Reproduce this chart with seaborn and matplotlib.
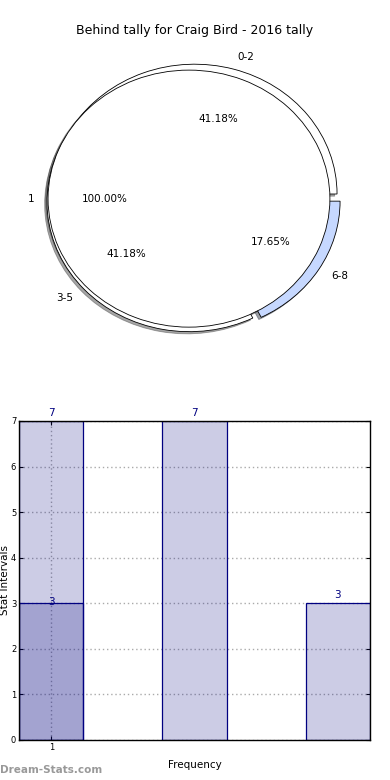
import numpy as np
import pandas as pd
import seaborn as sns
import matplotlib
matplotlib.use("Agg")
import matplotlib.pyplot as plt

# data
interval_labels = ["0-2", "3-5", "6-8"]
interval_counts = [7, 7, 3]
overall_labels = ["1"]
overall_counts = [1]
overlay_counts = [3, 0, 0]      # darker bar on the first interval
tick_labels = ["1"]
pie_colors = ["white", "white", "#c6d8ff"]

sns.set_style("white")
plt.rcParams['font.family'] = ['DejaVu Sans']
plt.rcParams['text.color'] = 'black'
plt.rcParams['axes.labelcolor'] = 'black'
plt.rcParams['xtick.color'] = 'black'
plt.rcParams['ytick.color'] = 'black'

fig = plt.figure(figsize=(3.9, 7.8), dpi=100)

# pie part - outer intervals, then the single "1" pie on top
shadow = dict(ox=-0.012, oy=-0.012)
ax1 = fig.add_axes([0.021, 0.529, 0.949, 0.4327])
ax1.pie(interval_counts, labels=interval_labels, colors=pie_colors,
        explode=[0.037] * len(interval_counts), radius=1.0, shadow=shadow,
        autopct='%.2f%%', startangle=0, counterclock=True,
        wedgeprops=dict(edgecolor='black', linewidth=0.6),
        textprops=dict(fontsize=7.5))
ax1.pie(overall_counts, labels=overall_labels, colors=["white"], radius=0.99,
        explode=[0.03], shadow=shadow, autopct='%.2f%%', startangle=0,
        wedgeprops=dict(edgecolor='black', linewidth=0.6),
        textprops=dict(fontsize=7.5))
ax1.set_aspect('auto')
ax1.set_xlim(-1.3, 1.3)
ax1.set_ylim(-1.3, 1.3)
ax1.axis('off')

fig.text(0.5, 0.9615, "Behind tally for Craig Bird - 2016 tally", ha='center', va='center', fontsize=9)

# bar part
ax2 = fig.add_axes([0.0487, 0.0513, 0.9, 0.409])
df = pd.DataFrame({"interval": interval_labels, "count": interval_counts, "overlay": overlay_counts})
sns.barplot(data=df, x="interval", y="count", color="navy", saturation=1,
            edgecolor="navy", linewidth=0.9, width=0.45, ax=ax2)
c_main = ax2.containers[0]
sns.barplot(data=df.iloc[:1], x="interval", y="overlay", color="navy", saturation=1,
            edgecolor="navy", linewidth=0.9, width=0.45, ax=ax2)
c_over = ax2.containers[1]
for p in list(c_main) + list(c_over):
    p.set_alpha(None)
    p.set_facecolor((0, 0, 0.5, 0.2))
    p.set_edgecolor((0, 0, 0.5, 1))
ax2.bar_label(c_main, padding=2, color='navy', fontsize=7.5)
ax2.bar_label(c_over, padding=-3, color='navy', fontsize=7.5)

ax2.set_xlim(-0.225, 2.225)
ax2.set_ylim(0, 7)
ax2.set_xticks([0])
ax2.set_xticklabels(tick_labels)
ax2.set_yticks(range(8))
ax2.tick_params(axis='both', labelsize=6, direction='in', length=3, pad=2,
                top=True, right=True, bottom=True, left=True)
ax2.grid(True, linestyle=(0, (1, 2)), color='#aaaaaa', linewidth=1)
ax2.set_axisbelow(True)
for s in ax2.spines.values():
    s.set_color('black')
    s.set_linewidth(1)
ax2.set_xlabel("Frequency", fontsize=7.5, labelpad=6)
ax2.set_ylabel("Stat Intervals", fontsize=7.5)
ax2.yaxis.set_label_coords(-0.026, 0.5)

fig.text(0.0, 0.013, "Dream-Stats.com", color='#999999', fontsize=7.5, fontweight='bold', ha='left', va='center')

fig.savefig("out.png", dpi=100)
